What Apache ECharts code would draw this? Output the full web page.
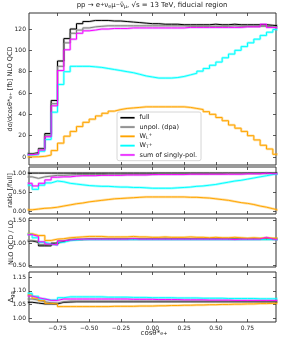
<!DOCTYPE html>
<html><head><meta charset="utf-8">
<script src="https://cdn.jsdelivr.net/npm/echarts@6/dist/echarts.min.js"></script>
<style>html,body{margin:0;padding:0;background:#fff}#c{width:288px;height:342px}</style>
</head><body><div id="c"></div>
<script>
// ---- data ----
const binEdges = [-1,-0.95,-0.9,-0.85,-0.8,-0.75,-0.7,-0.65,-0.6,-0.55,-0.5,-0.45,-0.4,-0.35,-0.3,-0.25,-0.2,-0.15,-0.1,-0.05,0,0.05,0.1,0.15,0.2,0.25,0.3,0.35,0.4,0.45,0.5,0.55,0.6,0.65,0.7,0.75,0.8,0.85,0.9,0.95,1];
const xTickValues = [-0.75,-0.5,-0.25,0,0.25,0.5,0.75];
const seriesNames = ['full','unpol. (dpa)','WL','WT','sum of singly-pol.'];

// main panel: dsigma/dcos [fb]
const mainFull  = [3,4,8,22,53,90,111,120,125,127,128,128,128,127.5,127.5,127,126.5,126,125.5,125,125,124.5,124.5,124.5,124,124,124,124,124,124.5,124,124,124.5,124,124,124,124,124,123.5,123];
const mainUnpol = [2.7,3.6,7.5,20.5,50,85,107,116,119,121,122,122.5,123,123,123,123,123,123,123,123,123,123,123,123,123,122.5,122.5,122.5,122.5,122.5,122.5,122.5,123,122.5,122.5,122.5,122.5,122.5,122,121.5];
const mainWL    = [0.1,0.2,0.6,1.8,6,13,19.5,24,28.5,32.5,35.5,38.5,41,43,44.5,45.5,46,46.5,47,47,47,47,47,47,47,46.5,45.5,44.5,42.5,40,37,34,30,27,24,20,16,11,7.5,2.5];
const mainWT    = [2,2.3,5.5,16.5,42,68,80,85,85,85,84.5,84,83,82,81,80,79,77.5,76,75,74,74,74,74.5,75.5,77,78.5,80.5,83,86,89,93,96.5,100,103.5,107,110.5,114,117,119.5];
const mainSum   = [2.2,2.8,6.5,19,48,81,100.5,110.5,116,118.3,119,120,120,120.5,120.5,120.5,121,121,121,121,121,121,121,121,121,121.5,121.5,121.5,121.5,121.5,121.5,121.5,121.5,121.5,122,122,122,124.5,121.5,121];

// ratio panel [/full]
const ratioFull  = [1,1,1,1,1,1,1,1,1,1,1,1,1,1,1,1,1,1,1,1,1,1,1,1,1,1,1,1,1,1,1,1,1,1,1,1,1,1,1,1];
const ratioUnpol = [0.9,0.86,0.9,0.92,0.94,0.94,0.95,0.96,0.96,0.96,0.96,0.96,0.97,0.97,0.97,0.97,0.97,0.97,0.97,0.97,0.98,0.98,0.98,0.98,0.98,0.98,0.98,0.98,0.98,0.98,0.98,0.99,0.99,0.99,0.99,0.99,0.99,0.99,0.99,0.99];
const ratioWL    = [0.03,0.05,0.07,0.08,0.1,0.13,0.16,0.19,0.21,0.24,0.26,0.28,0.3,0.32,0.33,0.34,0.35,0.36,0.37,0.37,0.37,0.37,0.37,0.37,0.37,0.36,0.36,0.35,0.34,0.32,0.3,0.28,0.25,0.22,0.2,0.17,0.13,0.1,0.06,0.02];
const ratioWT    = [0.68,0.57,0.68,0.74,0.79,0.77,0.73,0.71,0.69,0.67,0.66,0.65,0.65,0.64,0.63,0.63,0.62,0.62,0.61,0.6,0.6,0.6,0.6,0.61,0.62,0.63,0.65,0.66,0.68,0.7,0.73,0.76,0.79,0.81,0.84,0.87,0.9,0.93,0.96,0.98];
const ratioSum   = [0.73,0.66,0.73,0.82,0.89,0.9,0.9,0.92,0.93,0.93,0.93,0.94,0.94,0.94,0.94,0.95,0.95,0.95,0.95,0.96,0.96,0.96,0.96,0.96,0.96,0.97,0.97,0.97,0.97,0.97,0.97,0.97,0.97,0.97,0.98,0.98,0.98,1.0,0.98,0.98];

// NLO QCD / LO panel
const kFull  = [1.05,1.02,0.94,0.94,1.0,1.04,1.07,1.08,1.08,1.09,1.09,1.09,1.09,1.09,1.09,1.09,1.09,1.09,1.09,1.09,1.09,1.09,1.09,1.09,1.09,1.09,1.09,1.09,1.09,1.09,1.09,1.09,1.09,1.09,1.09,1.09,1.09,1.09,1.09,1.09];
const kUnpol = [1.06,1.04,0.97,0.96,1.0,1.05,1.08,1.09,1.09,1.1,1.1,1.1,1.1,1.1,1.1,1.1,1.1,1.1,1.1,1.1,1.1,1.11,1.1,1.1,1.1,1.1,1.1,1.1,1.1,1.1,1.1,1.1,1.1,1.1,1.1,1.1,1.1,1.1,1.1,1.1];
const kWL    = [1.21,1.17,1.17,1.06,1.09,1.1,1.12,1.13,1.14,1.15,1.15,1.15,1.14,1.14,1.14,1.14,1.15,1.14,1.14,1.13,1.13,1.14,1.13,1.13,1.13,1.14,1.13,1.13,1.12,1.13,1.12,1.12,1.13,1.12,1.11,1.12,1.11,1.12,1.11,1.11];
const kWT    = [1.2,1.12,1.02,0.98,0.96,1.02,1.06,1.07,1.08,1.08,1.08,1.08,1.08,1.08,1.08,1.08,1.08,1.08,1.08,1.08,1.08,1.08,1.08,1.08,1.08,1.08,1.08,1.08,1.08,1.08,1.08,1.08,1.08,1.08,1.08,1.08,1.08,1.08,1.08,1.08];
const kSum   = [1.19,1.15,1.03,0.98,0.96,1.05,1.07,1.08,1.09,1.09,1.09,1.09,1.09,1.09,1.09,1.09,1.1,1.09,1.09,1.09,1.09,1.09,1.09,1.09,1.09,1.09,1.09,1.09,1.09,1.09,1.09,1.09,1.08,1.09,1.09,1.09,1.09,1.13,1.09,1.08];

// Delta_gg panel
const dFull  = [1.058,1.055,1.052,1.052,1.052,1.058,1.059,1.06,1.06,1.06,1.06,1.06,1.06,1.06,1.06,1.06,1.06,1.06,1.06,1.06,1.06,1.06,1.06,1.06,1.06,1.06,1.06,1.06,1.06,1.06,1.06,1.06,1.06,1.06,1.06,1.06,1.06,1.06,1.06,1.06];
const dUnpol = [1.07,1.066,1.06,1.056,1.055,1.06,1.062,1.062,1.062,1.062,1.062,1.062,1.062,1.062,1.062,1.062,1.062,1.062,1.062,1.062,1.062,1.062,1.062,1.062,1.062,1.062,1.062,1.062,1.062,1.062,1.062,1.062,1.062,1.062,1.062,1.062,1.062,1.062,1.062,1.062];
const dWL    = [1.085,1.073,1.064,1.054,1.052,1.042,1.042,1.042,1.042,1.042,1.042,1.042,1.042,1.043,1.043,1.043,1.043,1.044,1.044,1.044,1.045,1.045,1.046,1.046,1.047,1.047,1.048,1.048,1.049,1.049,1.05,1.05,1.051,1.051,1.052,1.052,1.053,1.053,1.054,1.054];
const dWT    = [1.091,1.08,1.07,1.066,1.066,1.075,1.078,1.078,1.078,1.078,1.078,1.078,1.077,1.077,1.077,1.077,1.076,1.076,1.076,1.075,1.075,1.075,1.075,1.074,1.074,1.074,1.074,1.073,1.073,1.073,1.073,1.072,1.072,1.072,1.072,1.072,1.071,1.071,1.071,1.071];
const dSum   = [1.081,1.075,1.07,1.065,1.065,1.07,1.07,1.07,1.07,1.07,1.07,1.07,1.07,1.07,1.07,1.07,1.069,1.069,1.069,1.069,1.068,1.068,1.068,1.068,1.067,1.067,1.067,1.067,1.066,1.066,1.066,1.066,1.065,1.065,1.065,1.065,1.065,1.065,1.065,1.065];

const yTicksMain  = [0,20,40,60,80,100,120];
const yTicksRatio = [0,0.5,1];
const yTicksK     = [0.5,1,1.5];
const yTicksD     = [1,1.05,1.1,1.15];

// ---- chart ----
const colors = ['#000000','#808080','#ffa500','#00ffff','#ff00ff'];
const bandColors = ['rgba(0,0,0,0.18)','rgba(128,128,128,0.3)','rgba(255,165,0,0.35)','rgba(0,255,255,0.35)','rgba(190,90,255,0.35)'];
const FONT = 'DejaVu Sans';
const FRAME = '#333';

const panels = [
  {top:13, height:152, min:-7.5, max:135, ticks:yTicksMain, dec:0, sets:[mainFull,mainUnpol,mainWL,mainWT,mainSum]},
  {top:167, height:47, min:-0.08, max:1.16, ticks:yTicksRatio, dec:2, sets:[ratioFull,ratioUnpol,ratioWL,ratioWT,ratioSum]},
  {top:218, height:49, min:0.47, max:1.56, ticks:yTicksK, dec:2, sets:[kFull,kUnpol,kWL,kWT,kSum]},
  {top:272, height:50, min:0.985, max:1.17, ticks:yTicksD, dec:2, sets:[dFull,dUnpol,dWL,dWT,dSum]}
];

function steps(vals){ return binEdges.map((e,i)=>[e, vals[Math.min(i, vals.length-1)]]); }
function fmtX(v){ return (v<0?'\u2212':'') + Math.abs(v).toFixed(2); }

const grid=[], xAxis=[], yAxis=[], series=[];
panels.forEach((p,g)=>{
  grid.push({left:29, width:247, top:p.top, height:p.height, show:true, borderColor:FRAME, borderWidth:1, backgroundColor:'transparent'});
  const tickStyle = {show:true, inside:true, length:3, lineStyle:{color:FRAME, width:0.8}};
  const noLine = {show:false, onZero:false};
  xAxis.push({type:'value', gridIndex:g, min:-0.975, max:0.975, position:'bottom',
    axisLine:noLine, splitLine:{show:false},
    axisTick:Object.assign({customValues:xTickValues}, tickStyle),
    axisLabel:{show:g===3, customValues:xTickValues, formatter:fmtX, fontSize:6, fontFamily:FONT, color:'#222', margin:3}});
  xAxis.push({type:'value', gridIndex:g, min:-0.975, max:0.975, position:'top',
    axisLine:noLine, splitLine:{show:false},
    axisTick:Object.assign({customValues:xTickValues}, tickStyle), axisLabel:{show:false}});
  yAxis.push({type:'value', gridIndex:g, min:p.min, max:p.max, position:'left',
    axisLine:noLine, splitLine:{show:false},
    axisTick:Object.assign({customValues:p.ticks}, tickStyle),
    axisLabel:{customValues:p.ticks, formatter:v=>v.toFixed(p.dec), fontSize:6, fontFamily:FONT, color:'#222', margin:3}});
  yAxis.push({type:'value', gridIndex:g, min:p.min, max:p.max, position:'right',
    axisLine:noLine, splitLine:{show:false},
    axisTick:Object.assign({customValues:p.ticks}, tickStyle), axisLabel:{show:false}});
  p.sets.forEach((vals,k)=>{
    series.push({type:'line', name:'band'+g+'_'+k, xAxisIndex:2*g, yAxisIndex:2*g, step:'end', symbol:'none',
      data:steps(vals), lineStyle:{color:bandColors[k], width:2.5}, itemStyle:{color:bandColors[k]}, z:2, silent:true});
  });
  p.sets.forEach((vals,k)=>{
    series.push({type:'line', name:seriesNames[k], xAxisIndex:2*g, yAxisIndex:2*g, step:'end', symbol:'none',
      data:steps(vals), lineStyle:{color:colors[k], width:1}, itemStyle:{color:colors[k]}, z:3+k});
  });
});

const chart = echarts.init(document.getElementById('c'), null, {renderer:'canvas'});
chart.setOption({
  animation:false,
  backgroundColor:'#fff',
  grid, xAxis, yAxis, series,
  legend:{
    data:seriesNames.map((n,k)=>({name:n, icon:'rect', itemStyle:{color:colors[k], borderColor:bandColors[k], borderWidth:1}})),
    orient:'vertical', left:117, top:112,
    itemWidth:14, itemHeight:1.5, itemGap:1.8, padding:[2,4,2,3],
    backgroundColor:'#fff', borderColor:'#ccc', borderWidth:0.8, borderRadius:2,
    textStyle:{fontSize:6.5, fontFamily:FONT, color:'#222', lineHeight:7.5,
      rich:{sb:{fontSize:4.5, fontFamily:FONT, color:'#222', verticalAlign:'bottom'}, sp:{fontSize:4.5, fontFamily:FONT, color:'#222', verticalAlign:'top'}}},
    formatter:function(n){ if(n==='WL') return 'W{sb|L}{sp|+}'; if(n==='WT') return 'W{sb|T}{sp|+}'; return n; }
  },
  graphic:[
    {type:'text', x:152, y:2, style:{text:'pp \u2192 e{sp|+}\u03bd{sb|e}\u03bc{sp|\u2212}\u03bd\u0304{sb|\u03bc}, \u221as = 13 TeV, fiducial region', textAlign:'center', font:'7px "DejaVu Sans"', fill:'#222',
      rich:{sb:{fontSize:5, fontFamily:FONT, verticalAlign:'bottom', fill:'#222'}, sp:{fontSize:5, fontFamily:FONT, verticalAlign:'top', fill:'#222'}}}},
    {type:'text', x:10, y:89, rotation:Math.PI/2, style:{text:'d\u03c3/dcos\u03b8*{sb|e+} [fb] NLO QCD', textAlign:'center', textVerticalAlign:'middle', font:'6.5px "DejaVu Sans"', fill:'#222',
      rich:{sb:{fontSize:4.5, fontFamily:FONT, verticalAlign:'bottom', fill:'#222'}}}},
    {type:'text', x:10.5, y:190.5, rotation:Math.PI/2, style:{text:'ratio [/full]', textAlign:'center', textVerticalAlign:'middle', font:'6.5px "DejaVu Sans"', fill:'#222'}},
    {type:'text', x:11, y:242.5, rotation:Math.PI/2, style:{text:'NLO QCD / LO', textAlign:'center', textVerticalAlign:'middle', font:'6.5px "DejaVu Sans"', fill:'#222'}},
    {type:'text', x:11.5, y:297, rotation:Math.PI/2, style:{text:'\u0394{sb|gg}', textAlign:'center', textVerticalAlign:'middle', font:'7px "DejaVu Sans"', fill:'#222',
      rich:{sb:{fontSize:5, fontFamily:FONT, verticalAlign:'bottom', fill:'#222'}}}},
    {type:'text', x:154, y:333, style:{text:'cos\u03b8*{sb|e+}', textAlign:'center', textVerticalAlign:'middle', font:'7px "DejaVu Sans"', fill:'#222',
      rich:{sb:{fontSize:5, fontFamily:FONT, verticalAlign:'bottom', fill:'#222'}}}}
  ]
});
</script>
</body></html>
